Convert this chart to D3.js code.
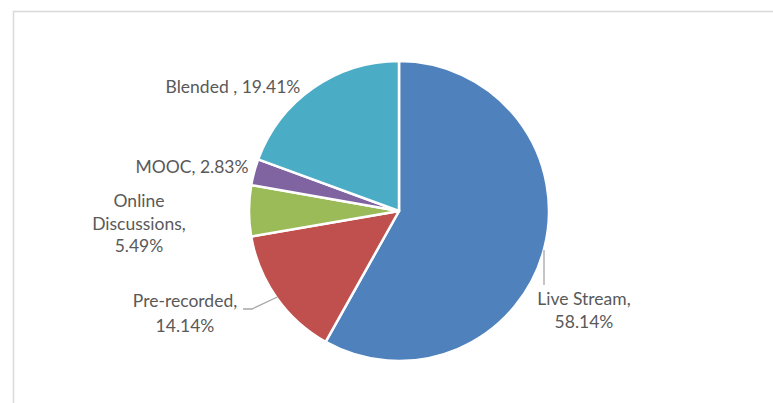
<!DOCTYPE html>
<html>
<head>
<meta charset="utf-8">
<script src="https://cdn.jsdelivr.net/npm/d3@7"></script>
<style>
  html, body { margin: 0; padding: 0; background: #fff; }
  svg { display: block; }
</style>
</head>
<body>
<script>
// Delivery modes and their shares (percent)
const categories = ["Live Stream", "Pre-recorded", "Online Discussions", "MOOC", "Blended"];
const shares = [58.14, 14.14, 5.49, 2.83, 19.41];
const colors = ["#4F81BD", "#C0504D", "#9BBB59", "#8064A2", "#4BACC6"];
// Label text lines for each slice
const labelLines = [
  ["Live Stream,", "58.14%"],
  ["Pre-recorded,", "14.14%"],
  ["Online", "Discussions,", "5.49%"],
  ["MOOC, 2.83%"],
  ["Blended , 19.41%"]
];

const W = 773, H = 403;
const cx = 399, cy = 211, R = 150;

// Label anchor (centre x, first baseline y) placement
const labelPos = [
  { x: 584, y: 305, lh: 22.5 },
  { x: 185, y: 307, lh: 24.5 },
  { x: 139, y: 207, lh: 22.5 },
  { x: 192, y: 173, lh: 22 },
  { x: 233, y: 93, lh: 22 }
];

const svg = d3.select("body").append("svg")
  .attr("width", W).attr("height", H);

// chart frame
svg.append("path")
  .attr("d", `M13.5,${H} L13.5,11.5 L${W},11.5`)
  .attr("fill", "none")
  .attr("stroke", "#d9d9d9")
  .attr("stroke-width", 1.5);

const data = categories.map((c, i) => ({ name: c, value: shares[i], color: colors[i], lines: labelLines[i], pos: labelPos[i] }));

const pie = d3.pie().sort(null).value(d => d.value);
const arc = d3.arc().innerRadius(0).outerRadius(R);
const arcs = pie(data);

const g = svg.append("g").attr("transform", `translate(${cx},${cy})`);

g.selectAll("path.slice")
  .data(arcs)
  .join("path")
  .attr("class", "slice")
  .attr("d", arc)
  .attr("fill", d => d.data.color)
  .attr("stroke", "#fff")
  .attr("stroke-width", 2.5)
  .attr("stroke-linejoin", "round");

const outerPt = (a, r) => [Math.sin(a) * r, -Math.cos(a) * r];

// Live Stream: vertical leader tick beside the rim
g.append("path")
  .attr("d", `M${544 - cx},${250 - cy} L${544 - cx},${285 - cy}`)
  .attr("fill", "none").attr("stroke", "#a6a6a6").attr("stroke-width", 1.3);

// Pre-recorded: bent leader from the slice rim toward its label
{
  const a = arcs[1];
  const ang = a.startAngle + (a.endAngle - a.startAngle) * 0.5;
  const p = outerPt(ang, R - 1);
  g.append("path")
    .attr("d", `M${p[0]},${p[1]} L${252 - cx},${309 - cy} L${243 - cx},${309 - cy}`)
    .attr("fill", "none").attr("stroke", "#a6a6a6").attr("stroke-width", 1.3);
}

// labels
const labels = svg.append("g")
  .attr("font-family", "Lato, 'Open Sans', sans-serif")
  .attr("font-size", 17.5)
  .attr("fill", "#595959")
  .attr("text-anchor", "middle");

data.forEach(d => {
  const t = labels.append("text");
  d.lines.forEach((ln, k) => {
    t.append("tspan")
      .attr("x", d.pos.x)
      .attr("y", d.pos.y + k * d.pos.lh)
      .text(ln);
  });
});
</script>
</body>
</html>
